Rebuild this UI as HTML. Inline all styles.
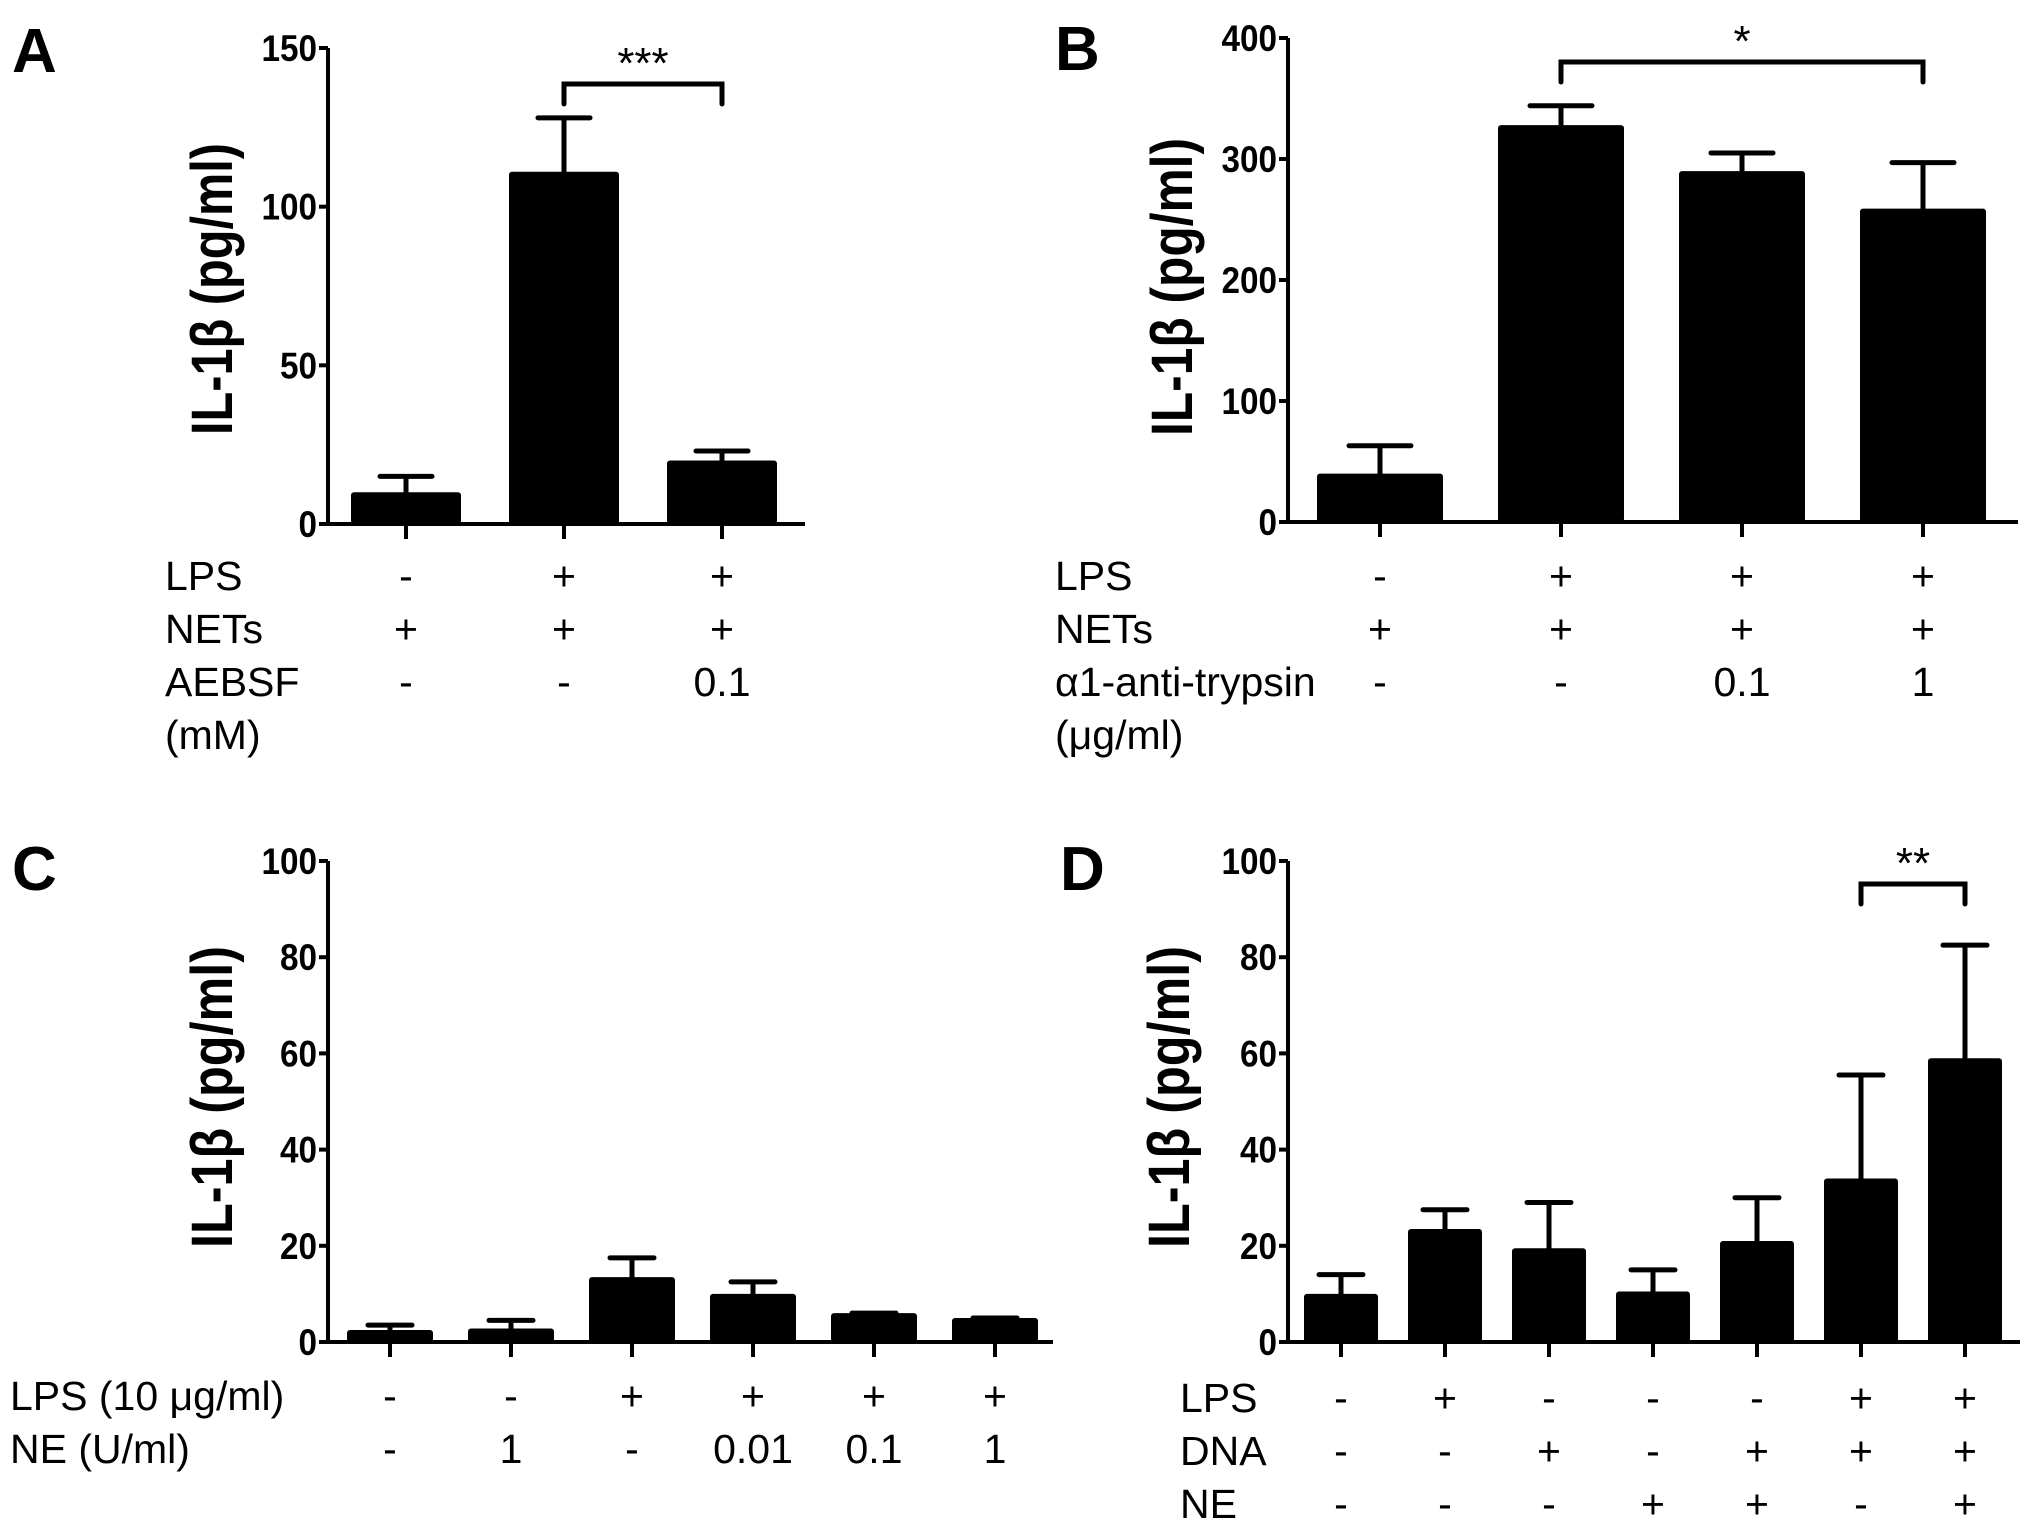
<!DOCTYPE html>
<html><head><meta charset="utf-8"><style>
html,body{margin:0;padding:0;background:#fff}
svg{display:block}
text{font-family:"Liberation Sans",Arial,sans-serif;fill:#000}
</style></head><body>
<svg id="fig" width="2031" height="1531" viewBox="0 0 2031 1531"></svg>
<script>
// Panel A data
const aCats = ["g1","g2","g3"];
const aMeans = [10, 111, 20];
const aErrTop = [15, 128, 23];
const aTicks = [0, 50, 100, 150];
const aRows = [["LPS","-","+","+"],["NETs","+","+","+"],["AEBSF","-","-","0.1"],["(mM)","","",""]];
// Panel B data
const bCats = ["g1","g2","g3","g4"];
const bMeans = [40, 328, 290, 259];
const bErrTop = [63, 344, 305, 297];
const bTicks = [0, 100, 200, 300, 400];
const bRows = [["LPS","-","+","+","+"],["NETs","+","+","+","+"],["α1-anti-trypsin","-","-","0.1","1"],["(μg/ml)","","","",""]];
// Panel C data
const cCats = ["g1","g2","g3","g4","g5","g6"];
const cMeans = [2.5, 2.8, 13.5, 10, 6, 5];
const cErrTop = [3.5, 4.5, 17.5, 12.5, 6, 5];
const cTicks = [0, 20, 40, 60, 80, 100];
const cRows = [["LPS (10 μg/ml)","-","-","+","+","+","+"],["NE (U/ml)","-","1","-","0.01","0.1","1"]];
// Panel D data
const dCats = ["g1","g2","g3","g4","g5","g6","g7"];
const dMeans = [10, 23.5, 19.5, 10.5, 21, 34, 59];
const dErrTop = [14, 27.5, 29, 15, 30, 55.5, 82.5];
const dTicks = [0, 20, 40, 60, 80, 100];
const dRows = [["LPS","-","+","-","-","-","+","+"],["DNA","-","-","+","-","+","+","+"],["NE","-","-","-","+","+","-","+"]];

const NS="http://www.w3.org/2000/svg";
const svg=document.getElementById('fig');
function mk(tag,attrs,parent,txt){const e=document.createElementNS(NS,tag);for(const k in attrs)e.setAttribute(k,attrs[k]);if(txt!==undefined)e.textContent=txt;(parent||svg).appendChild(e);return e;}

function panel(p){
  const g=mk('g',{});
  
  
  const y=v=>p.y0-(v/p.ymax)*(p.y0-p.ytop);
  const x=i=>p.x0bar+i*p.step;
  const lt=mk('text',{x:p.lx,y:p.ly,'font-size':62,'font-weight':'bold'},g,p.id);
  
  
  p.means.forEach((m,i)=>{
    const cx=x(i);
    const eb=mk('path',{d:`M${cx},${y(m)} V${y(p.err[i])} M${cx-p.cap/2},${y(p.err[i])} H${cx+p.cap/2}`,stroke:'#000','stroke-width':5,fill:'none','stroke-linecap':'round'},g);
    
    
    const b=mk('rect',{x:cx-p.bw/2,y:y(m),width:p.bw,height:p.y0-y(m),fill:'#000',rx:3},g);
    
    
  });
  const ax=mk('path',{d:`M${p.ax},${p.ytop} V${p.y0} H${p.axEnd}`,stroke:'#000','stroke-width':4,fill:'none'},g);
  
  
  p.ticks.forEach(t=>{
    mk('line',{x1:p.ax-9,x2:p.ax,y1:y(t),y2:y(t),stroke:'#000','stroke-width':4},g);
    const s=String(t);
    const tl=mk('text',{x:p.ax-11,y:y(t)+13,'font-size':37,'font-weight':'bold','text-anchor':'end',textLength:s.length*18.5,lengthAdjust:'spacingAndGlyphs'},g,s);
    
    
  });
  p.means.forEach((m,i)=>{mk('line',{x1:x(i),x2:x(i),y1:p.y0,y2:p.y0+15,stroke:'#000','stroke-width':4},g);});
  const yt=mk('text',{x:0,y:0,'font-size':58,'font-weight':'bold','text-anchor':'middle',textLength:p.tlen,lengthAdjust:'spacingAndGlyphs',transform:`translate(${p.tx},${p.tcy}) rotate(-90)`},g,'IL-1β (pg/ml)');
  
  
  p.rows.forEach((r,ri)=>{
    const ry=p.row0+ri*p.rowStep;
    const rl=mk('text',{x:p.labX,y:ry,'font-size':41},g,r[0]);
    
    
    r.slice(1).forEach((v,i)=>{
      if(!v)return;
      const c=mk('text',{x:x(i),y:ry,'font-size':41,'text-anchor':'middle'},g,v);
      
      
    });
  });
  if(p.sig){
    const [i1,i2,by,txt]=p.sig;
    const br=mk('path',{d:`M${x(i1)},${by+20} V${by} H${x(i2)} V${by+20}`,stroke:'#000','stroke-width':5,fill:'none','stroke-linecap':'round'},g);
    
    
    const st=mk('text',{x:(x(i1)+x(i2))/2,y:by-6,'font-size':44,'text-anchor':'middle'},g,txt);
    
    
  }
}

panel({id:'A',cats:aCats,means:aMeans,err:aErrTop,ticks:aTicks,ymax:150,rows:aRows,
  lx:12,ly:72,ax:328,ytop:48,y0:524,axEnd:805,x0bar:406,step:158,bw:110,cap:52,
  tx:232,tcy:289,tlen:292,labX:165,row0:590,rowStep:53,sig:[1,2,84,'***']});
panel({id:'B',cats:bCats,means:bMeans,err:bErrTop,ticks:bTicks,ymax:400,rows:bRows,
  lx:1055,ly:70,ax:1288,ytop:38,y0:522,axEnd:2018,x0bar:1380,step:181,bw:126,cap:62,
  tx:1192,tcy:287,tlen:298,labX:1055,row0:590,rowStep:53,sig:[1,3,62,'*']});
panel({id:'C',cats:cCats,means:cMeans,err:cErrTop,ticks:cTicks,ymax:100,rows:cRows,
  lx:12,ly:890,ax:328,ytop:861,y0:1342,axEnd:1053,x0bar:390,step:121,bw:86,cap:44,
  tx:232,tcy:1097,tlen:302,labX:10,row0:1410,rowStep:53,sig:null});
panel({id:'D',cats:dCats,means:dMeans,err:dErrTop,ticks:dTicks,ymax:100,rows:dRows,
  lx:1060,ly:890,ax:1288,ytop:861,y0:1342,axEnd:2020,x0bar:1341,step:104,bw:74,cap:44,
  tx:1189,tcy:1097,tlen:302,labX:1180,row0:1412,rowStep:53,sig:[5,6,884,'**']});
</script>
</body></html>
